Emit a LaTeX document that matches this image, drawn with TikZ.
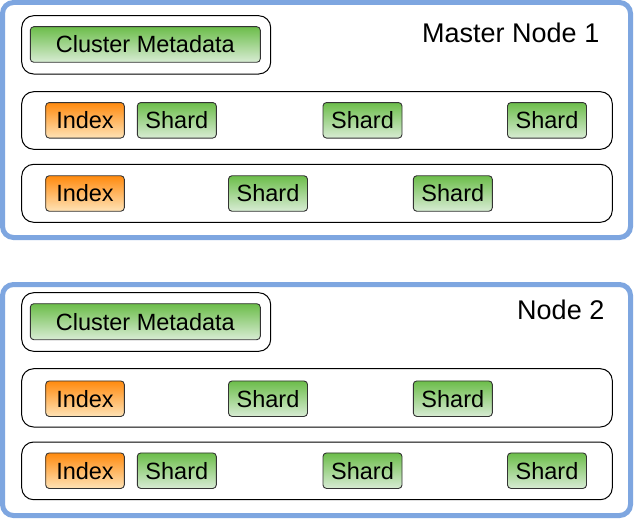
\documentclass[tikz,border=0pt]{standalone}
\usepackage{fontspec}
\setmainfont{Liberation Sans}
\definecolor{bluebd}{HTML}{7EA6E0}
\definecolor{gtop}{HTML}{6CBD4A}
\definecolor{gbot}{HTML}{D8ECD4}
\definecolor{otop}{HTML}{FF8A0E}
\definecolor{obot}{HTML}{FFE3B6}
\tikzset{
  container/.style={draw=bluebd, line width=5pt, rounded corners=11pt, rectangle, inner sep=0pt},
  rowbox/.style={draw=black, line width=1pt, rounded corners=12pt, rectangle, fill=white, inner sep=0pt},
  greenbox/.style={draw=black!80, line width=0.9pt, rounded corners=3.5pt, rectangle, inner sep=0pt,
     top color=gtop, bottom color=gbot, font=\fontsize{23.5}{26}\selectfont, minimum height=35.5pt},
  shardbox/.style={greenbox, minimum width=79pt},
  indexbox/.style={draw=black!80, line width=0.9pt, rounded corners=3.5pt, rectangle, inner sep=0pt,
     top color=otop, bottom color=obot, font=\fontsize{23.5}{26}\selectfont, minimum height=35.5pt, minimum width=78.6pt},
  title/.style={font=\fontsize{27}{30}\selectfont, inner sep=0pt, anchor=base east},
}
\begin{document}
\begin{tikzpicture}[x=1pt,y=-1pt]
\useasboundingbox (0,0) rectangle (634,519);
\fill[white] (0,0) rectangle (634,519);
% ---------- Master Node 1 ----------
\node[container, minimum width=628pt, minimum height=235pt] (n1) at (316.5,120) {};
\node[title] (t1) at (599.5,42.3) {Master Node 1};
\node[rowbox, minimum width=249pt, minimum height=58.3pt] (m1o) at (146.2,44.85) {};
\node[greenbox, minimum width=230pt, minimum height=35.6pt] (m1) at (145.3,44.5) {Cluster Metadata};
\node[rowbox, minimum width=590.6pt, minimum height=57.6pt] (r1a) at (317,120.5) {};
\node[indexbox] (i1a) at (85,120.3) {Index};
\node[shardbox] (s1a1) at (176.8,120.3) {Shard};
\node[shardbox] (s1a2) at (362.5,120.3) {Shard};
\node[shardbox] (s1a3) at (547,120.3) {Shard};
\node[rowbox, minimum width=590.6pt, minimum height=58pt] (r1b) at (317,193.3) {};
\node[indexbox] (i1b) at (85,193.5) {Index};
\node[shardbox] (s1b1) at (268,193.5) {Shard};
\node[shardbox] (s1b2) at (452.8,193.5) {Shard};
% ---------- Node 2 ----------
\node[container, minimum width=628pt, minimum height=231pt] (n2) at (316.5,400) {};
\node[title] (t2) at (604.5,319) {Node 2};
\node[rowbox, minimum width=249pt, minimum height=58.6pt] (m2o) at (146.2,322) {};
\node[greenbox, minimum width=230pt, minimum height=36pt] (m2) at (145.3,321.7) {Cluster Metadata};
\node[rowbox, minimum width=590.6pt, minimum height=58.3pt] (r2a) at (317,397.85) {};
\node[indexbox] (i2a) at (85,398.7) {Index};
\node[shardbox] (s2a1) at (268,398.7) {Shard};
\node[shardbox] (s2a2) at (452.8,398.7) {Shard};
\node[rowbox, minimum width=590.6pt, minimum height=57.7pt] (r2b) at (317,470.85) {};
\node[indexbox] (i2b) at (85,470.7) {Index};
\node[shardbox] (s2b1) at (176.8,470.7) {Shard};
\node[shardbox] (s2b2) at (362.5,470.7) {Shard};
\node[shardbox] (s2b3) at (547,470.7) {Shard};
\end{tikzpicture}
\end{document}
